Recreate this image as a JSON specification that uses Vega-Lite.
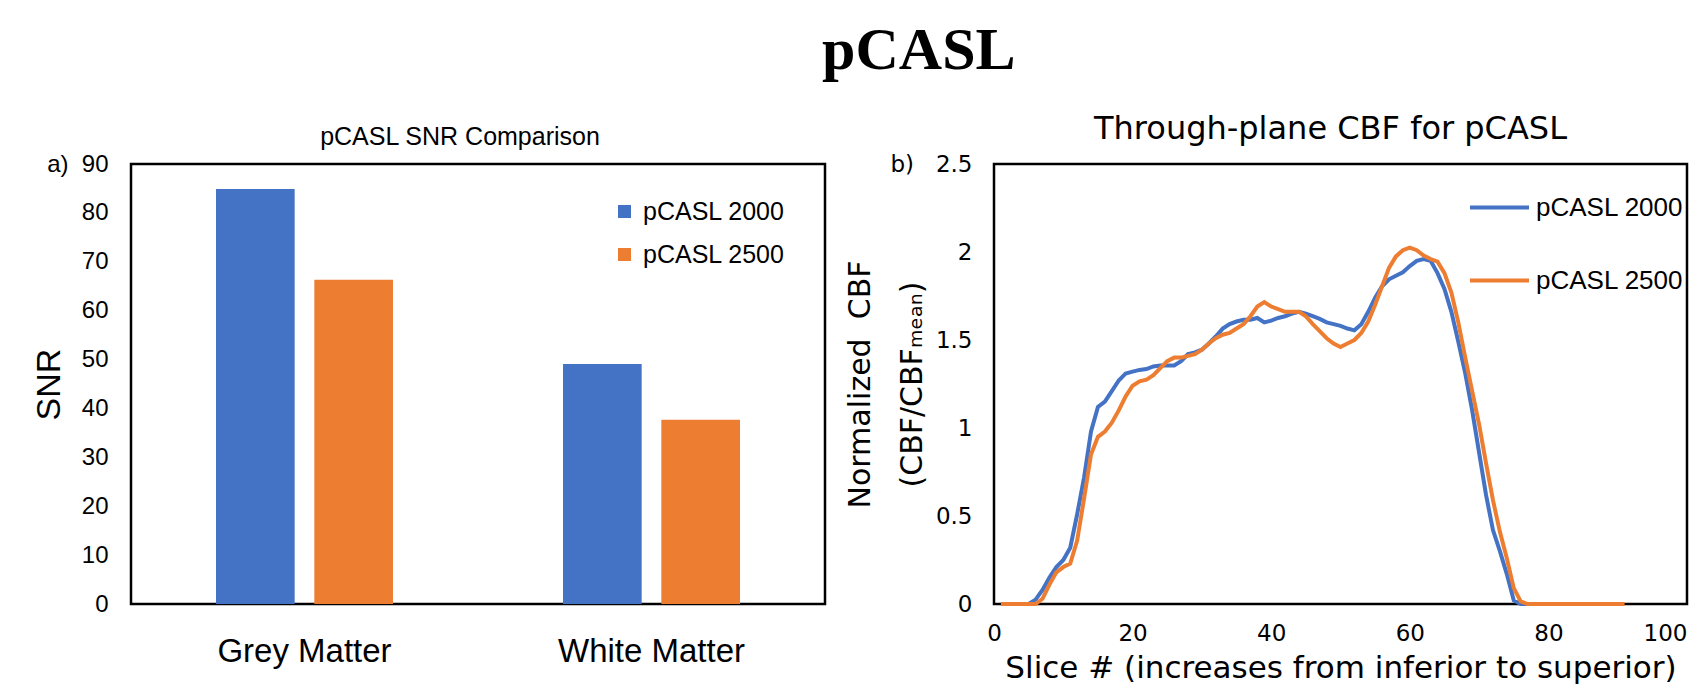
{
 "$schema": "https://vega.github.io/schema/vega-lite/v6.json",
 "background": "white",
 "padding": {"left": 31, "right": 0, "top": 20, "bottom": 0},
 "title": {"text": "pCASL", "font": "Liberation Serif", "fontSize": 60, "fontWeight": "bold", "anchor": "middle", "dx": 59, "offset": 30, "color": "black"},
 "config": {
  "font": "Liberation Sans",
  "view": {"stroke": "black", "strokeWidth": 2.5},
  "axis": {"ticks": false, "grid": false, "domain": false, "labelColor": "black", "titleColor": "black", "titleFontWeight": "normal", "labelLimit": 500},
  "legend": {"labelColor": "black", "labelLimit": 400},
  "title": {"color": "black", "fontWeight": "normal"}
 },
 "spacing": 17,
 "resolve": {"scale": {"color": "independent"}, "legend": {"color": "independent"}},
 "hconcat": [
  {
   "width": 694,
   "height": 440,
   "title": {"text": "pCASL SNR Comparison", "fontSize": 25, "dx": -18, "offset": -18, "baseline": "alphabetic"},
   "data": {"values": [
    {"tissue": "Grey Matter", "sequence": "pCASL 2000", "snr": 84.9},
    {"tissue": "Grey Matter", "sequence": "pCASL 2500", "snr": 66.3},
    {"tissue": "White Matter", "sequence": "pCASL 2000", "snr": 49.1},
    {"tissue": "White Matter", "sequence": "pCASL 2500", "snr": 37.7}
   ]},
   "mark": {"type": "bar"},
   "encoding": {
    "x": {"field": "tissue", "type": "nominal", "sort": ["Grey Matter", "White Matter"], "scale": {"paddingInner": 0.49, "paddingOuter": 0.245},
          "axis": {"title": null, "labelAngle": 0, "labelFontSize": 33, "labelPadding": 31}},
    "xOffset": {"field": "sequence", "type": "nominal", "scale": {"paddingInner": 0.2, "paddingOuter": 0}},
    "y": {"field": "snr", "type": "quantitative", "scale": {"domain": [0, 90]},
          "axis": {"values": [0, 10, 20, 30, 40, 50, 60, 70, 80, 90], "title": "SNR", "titleFontSize": 34, "labelFontSize": 24, "labelPadding": 23, "titlePadding": -20,
                   "labelExpr": "datum.value == 90 ? 'a)\u00a0\u00a090' : datum.label"}},
    "color": {"field": "sequence", "type": "nominal", "scale": {"domain": ["pCASL 2000", "pCASL 2500"], "range": ["#4472C4", "#ED7D31"]},
              "legend": {"title": null, "orient": "none", "legendX": 481, "legendY": 35, "symbolType": "square", "symbolSize": 169, "symbolStrokeWidth": 0, "labelFontSize": 25, "rowPadding": 17, "labelOffset": 6}}
   }
  },
  {
   "width": 693,
   "height": 440,
   "title": {"text": "Through-plane CBF for pCASL", "font": "DejaVu Sans", "fontSize": 32, "dx": -10, "offset": -18, "baseline": "alphabetic"},
   "data": {"values": [
    {"series": "pCASL 2000", "slice": 1, "cbf": 0},
    {"series": "pCASL 2000", "slice": 2, "cbf": 0},
    {"series": "pCASL 2000", "slice": 3, "cbf": 0},
    {"series": "pCASL 2000", "slice": 4, "cbf": 0},
    {"series": "pCASL 2000", "slice": 5, "cbf": 0},
    {"series": "pCASL 2000", "slice": 6, "cbf": 0.025},
    {"series": "pCASL 2000", "slice": 7, "cbf": 0.08},
    {"series": "pCASL 2000", "slice": 8, "cbf": 0.15},
    {"series": "pCASL 2000", "slice": 9, "cbf": 0.21},
    {"series": "pCASL 2000", "slice": 10, "cbf": 0.25},
    {"series": "pCASL 2000", "slice": 11, "cbf": 0.32},
    {"series": "pCASL 2000", "slice": 12, "cbf": 0.51},
    {"series": "pCASL 2000", "slice": 13, "cbf": 0.72},
    {"series": "pCASL 2000", "slice": 14, "cbf": 0.98},
    {"series": "pCASL 2000", "slice": 15, "cbf": 1.12},
    {"series": "pCASL 2000", "slice": 16, "cbf": 1.15},
    {"series": "pCASL 2000", "slice": 17, "cbf": 1.21},
    {"series": "pCASL 2000", "slice": 18, "cbf": 1.27},
    {"series": "pCASL 2000", "slice": 19, "cbf": 1.31},
    {"series": "pCASL 2000", "slice": 20, "cbf": 1.32},
    {"series": "pCASL 2000", "slice": 21, "cbf": 1.33},
    {"series": "pCASL 2000", "slice": 22, "cbf": 1.335},
    {"series": "pCASL 2000", "slice": 23, "cbf": 1.35},
    {"series": "pCASL 2000", "slice": 24, "cbf": 1.355},
    {"series": "pCASL 2000", "slice": 25, "cbf": 1.355},
    {"series": "pCASL 2000", "slice": 26, "cbf": 1.355},
    {"series": "pCASL 2000", "slice": 27, "cbf": 1.38},
    {"series": "pCASL 2000", "slice": 28, "cbf": 1.42},
    {"series": "pCASL 2000", "slice": 29, "cbf": 1.43},
    {"series": "pCASL 2000", "slice": 30, "cbf": 1.445},
    {"series": "pCASL 2000", "slice": 31, "cbf": 1.48},
    {"series": "pCASL 2000", "slice": 32, "cbf": 1.52},
    {"series": "pCASL 2000", "slice": 33, "cbf": 1.565},
    {"series": "pCASL 2000", "slice": 34, "cbf": 1.59},
    {"series": "pCASL 2000", "slice": 35, "cbf": 1.605},
    {"series": "pCASL 2000", "slice": 36, "cbf": 1.615},
    {"series": "pCASL 2000", "slice": 37, "cbf": 1.615},
    {"series": "pCASL 2000", "slice": 38, "cbf": 1.625},
    {"series": "pCASL 2000", "slice": 39, "cbf": 1.6},
    {"series": "pCASL 2000", "slice": 40, "cbf": 1.61},
    {"series": "pCASL 2000", "slice": 41, "cbf": 1.625},
    {"series": "pCASL 2000", "slice": 42, "cbf": 1.635},
    {"series": "pCASL 2000", "slice": 43, "cbf": 1.65},
    {"series": "pCASL 2000", "slice": 44, "cbf": 1.66},
    {"series": "pCASL 2000", "slice": 45, "cbf": 1.65},
    {"series": "pCASL 2000", "slice": 46, "cbf": 1.635},
    {"series": "pCASL 2000", "slice": 47, "cbf": 1.62},
    {"series": "pCASL 2000", "slice": 48, "cbf": 1.6},
    {"series": "pCASL 2000", "slice": 49, "cbf": 1.59},
    {"series": "pCASL 2000", "slice": 50, "cbf": 1.58},
    {"series": "pCASL 2000", "slice": 51, "cbf": 1.565},
    {"series": "pCASL 2000", "slice": 52, "cbf": 1.555},
    {"series": "pCASL 2000", "slice": 53, "cbf": 1.59},
    {"series": "pCASL 2000", "slice": 54, "cbf": 1.66},
    {"series": "pCASL 2000", "slice": 55, "cbf": 1.74},
    {"series": "pCASL 2000", "slice": 56, "cbf": 1.805},
    {"series": "pCASL 2000", "slice": 57, "cbf": 1.845},
    {"series": "pCASL 2000", "slice": 58, "cbf": 1.865},
    {"series": "pCASL 2000", "slice": 59, "cbf": 1.885},
    {"series": "pCASL 2000", "slice": 60, "cbf": 1.92},
    {"series": "pCASL 2000", "slice": 61, "cbf": 1.95},
    {"series": "pCASL 2000", "slice": 62, "cbf": 1.96},
    {"series": "pCASL 2000", "slice": 63, "cbf": 1.95},
    {"series": "pCASL 2000", "slice": 64, "cbf": 1.88},
    {"series": "pCASL 2000", "slice": 65, "cbf": 1.79},
    {"series": "pCASL 2000", "slice": 66, "cbf": 1.66},
    {"series": "pCASL 2000", "slice": 67, "cbf": 1.49},
    {"series": "pCASL 2000", "slice": 68, "cbf": 1.31},
    {"series": "pCASL 2000", "slice": 69, "cbf": 1.1},
    {"series": "pCASL 2000", "slice": 70, "cbf": 0.86},
    {"series": "pCASL 2000", "slice": 71, "cbf": 0.62},
    {"series": "pCASL 2000", "slice": 72, "cbf": 0.42},
    {"series": "pCASL 2000", "slice": 73, "cbf": 0.3},
    {"series": "pCASL 2000", "slice": 74, "cbf": 0.17},
    {"series": "pCASL 2000", "slice": 75, "cbf": 0.02},
    {"series": "pCASL 2000", "slice": 76, "cbf": 0},
    {"series": "pCASL 2000", "slice": 77, "cbf": 0},
    {"series": "pCASL 2500", "slice": 1, "cbf": 0},
    {"series": "pCASL 2500", "slice": 2, "cbf": 0},
    {"series": "pCASL 2500", "slice": 3, "cbf": 0},
    {"series": "pCASL 2500", "slice": 4, "cbf": 0},
    {"series": "pCASL 2500", "slice": 5, "cbf": 0},
    {"series": "pCASL 2500", "slice": 6, "cbf": 0},
    {"series": "pCASL 2500", "slice": 7, "cbf": 0.03},
    {"series": "pCASL 2500", "slice": 8, "cbf": 0.11},
    {"series": "pCASL 2500", "slice": 9, "cbf": 0.18},
    {"series": "pCASL 2500", "slice": 10, "cbf": 0.21},
    {"series": "pCASL 2500", "slice": 11, "cbf": 0.23},
    {"series": "pCASL 2500", "slice": 12, "cbf": 0.36},
    {"series": "pCASL 2500", "slice": 13, "cbf": 0.6},
    {"series": "pCASL 2500", "slice": 14, "cbf": 0.85},
    {"series": "pCASL 2500", "slice": 15, "cbf": 0.95},
    {"series": "pCASL 2500", "slice": 16, "cbf": 0.98},
    {"series": "pCASL 2500", "slice": 17, "cbf": 1.03},
    {"series": "pCASL 2500", "slice": 18, "cbf": 1.1},
    {"series": "pCASL 2500", "slice": 19, "cbf": 1.18},
    {"series": "pCASL 2500", "slice": 20, "cbf": 1.24},
    {"series": "pCASL 2500", "slice": 21, "cbf": 1.265},
    {"series": "pCASL 2500", "slice": 22, "cbf": 1.275},
    {"series": "pCASL 2500", "slice": 23, "cbf": 1.3},
    {"series": "pCASL 2500", "slice": 24, "cbf": 1.34},
    {"series": "pCASL 2500", "slice": 25, "cbf": 1.38},
    {"series": "pCASL 2500", "slice": 26, "cbf": 1.4},
    {"series": "pCASL 2500", "slice": 27, "cbf": 1.4},
    {"series": "pCASL 2500", "slice": 28, "cbf": 1.41},
    {"series": "pCASL 2500", "slice": 29, "cbf": 1.42},
    {"series": "pCASL 2500", "slice": 30, "cbf": 1.445},
    {"series": "pCASL 2500", "slice": 31, "cbf": 1.48},
    {"series": "pCASL 2500", "slice": 32, "cbf": 1.51},
    {"series": "pCASL 2500", "slice": 33, "cbf": 1.53},
    {"series": "pCASL 2500", "slice": 34, "cbf": 1.54},
    {"series": "pCASL 2500", "slice": 35, "cbf": 1.565},
    {"series": "pCASL 2500", "slice": 36, "cbf": 1.59},
    {"series": "pCASL 2500", "slice": 37, "cbf": 1.635},
    {"series": "pCASL 2500", "slice": 38, "cbf": 1.69},
    {"series": "pCASL 2500", "slice": 39, "cbf": 1.715},
    {"series": "pCASL 2500", "slice": 40, "cbf": 1.69},
    {"series": "pCASL 2500", "slice": 41, "cbf": 1.675},
    {"series": "pCASL 2500", "slice": 42, "cbf": 1.66},
    {"series": "pCASL 2500", "slice": 43, "cbf": 1.66},
    {"series": "pCASL 2500", "slice": 44, "cbf": 1.66},
    {"series": "pCASL 2500", "slice": 45, "cbf": 1.635},
    {"series": "pCASL 2500", "slice": 46, "cbf": 1.59},
    {"series": "pCASL 2500", "slice": 47, "cbf": 1.55},
    {"series": "pCASL 2500", "slice": 48, "cbf": 1.51},
    {"series": "pCASL 2500", "slice": 49, "cbf": 1.48},
    {"series": "pCASL 2500", "slice": 50, "cbf": 1.46},
    {"series": "pCASL 2500", "slice": 51, "cbf": 1.48},
    {"series": "pCASL 2500", "slice": 52, "cbf": 1.5},
    {"series": "pCASL 2500", "slice": 53, "cbf": 1.54},
    {"series": "pCASL 2500", "slice": 54, "cbf": 1.605},
    {"series": "pCASL 2500", "slice": 55, "cbf": 1.7},
    {"series": "pCASL 2500", "slice": 56, "cbf": 1.805},
    {"series": "pCASL 2500", "slice": 57, "cbf": 1.91},
    {"series": "pCASL 2500", "slice": 58, "cbf": 1.975},
    {"series": "pCASL 2500", "slice": 59, "cbf": 2.01},
    {"series": "pCASL 2500", "slice": 60, "cbf": 2.025},
    {"series": "pCASL 2500", "slice": 61, "cbf": 2.01},
    {"series": "pCASL 2500", "slice": 62, "cbf": 1.98},
    {"series": "pCASL 2500", "slice": 63, "cbf": 1.96},
    {"series": "pCASL 2500", "slice": 64, "cbf": 1.945},
    {"series": "pCASL 2500", "slice": 65, "cbf": 1.88},
    {"series": "pCASL 2500", "slice": 66, "cbf": 1.77},
    {"series": "pCASL 2500", "slice": 67, "cbf": 1.6},
    {"series": "pCASL 2500", "slice": 68, "cbf": 1.4},
    {"series": "pCASL 2500", "slice": 69, "cbf": 1.21},
    {"series": "pCASL 2500", "slice": 70, "cbf": 1.02},
    {"series": "pCASL 2500", "slice": 71, "cbf": 0.8},
    {"series": "pCASL 2500", "slice": 72, "cbf": 0.59},
    {"series": "pCASL 2500", "slice": 73, "cbf": 0.41},
    {"series": "pCASL 2500", "slice": 74, "cbf": 0.26},
    {"series": "pCASL 2500", "slice": 75, "cbf": 0.09},
    {"series": "pCASL 2500", "slice": 76, "cbf": 0.015},
    {"series": "pCASL 2500", "slice": 77, "cbf": 0},
    {"series": "pCASL 2500", "slice": 78, "cbf": 0},
    {"series": "pCASL 2500", "slice": 79, "cbf": 0},
    {"series": "pCASL 2500", "slice": 80, "cbf": 0},
    {"series": "pCASL 2500", "slice": 81, "cbf": 0},
    {"series": "pCASL 2500", "slice": 82, "cbf": 0},
    {"series": "pCASL 2500", "slice": 83, "cbf": 0},
    {"series": "pCASL 2500", "slice": 84, "cbf": 0},
    {"series": "pCASL 2500", "slice": 85, "cbf": 0},
    {"series": "pCASL 2500", "slice": 86, "cbf": 0},
    {"series": "pCASL 2500", "slice": 87, "cbf": 0},
    {"series": "pCASL 2500", "slice": 88, "cbf": 0},
    {"series": "pCASL 2500", "slice": 89, "cbf": 0},
    {"series": "pCASL 2500", "slice": 90, "cbf": 0},
    {"series": "pCASL 2500", "slice": 91, "cbf": 0}
   ]},
   "mark": {"type": "line", "strokeWidth": 4},
   "encoding": {
    "x": {"field": "slice", "type": "quantitative", "scale": {"domain": [0, 100]},
          "axis": {"values": [0, 20, 40, 60, 80, 100], "title": "Slice # (increases from inferior to superior)", "titleFont": "DejaVu Sans", "titleFontSize": 31, "labelFont": "DejaVu Sans", "labelFontSize": 23, "labelPadding": 18, "titlePadding": 8,
                   "labelAlign": {"condition": {"test": "datum.value == 100", "value": "right"}, "value": "center"}}},
    "y": {"field": "cbf", "type": "quantitative", "scale": {"domain": [0, 2.5]},
          "axis": {"values": [0, 0.5, 1, 1.5, 2, 2.5], "format": "~g", "title": ["Normalized\u00a0\u00a0CBF", "(CBF/CBF\u2098\u2091\u2090\u2099)"], "titleFont": "DejaVu Sans", "titleFontSize": 30, "titleLineHeight": 52, "titlePadding": -38,
                   "labelFont": "DejaVu Sans", "labelFontSize": 23, "labelPadding": 22,
                   "labelExpr": "datum.value == 2.5 ? 'b)\u00a0\u00a0\u00a02.5' : datum.label"}},
    "color": {"field": "series", "type": "nominal", "scale": {"domain": ["pCASL 2000", "pCASL 2500"], "range": ["#4472C4", "#ED7D31"]},
              "legend": {"title": null, "orient": "none", "legendX": 474, "legendY": 12, "symbolType": "stroke", "symbolSize": 3481, "symbolStrokeWidth": 4, "labelFontSize": 26, "rowPadding": 28, "labelOffset": 5}}
   }
  }
 ]
}
